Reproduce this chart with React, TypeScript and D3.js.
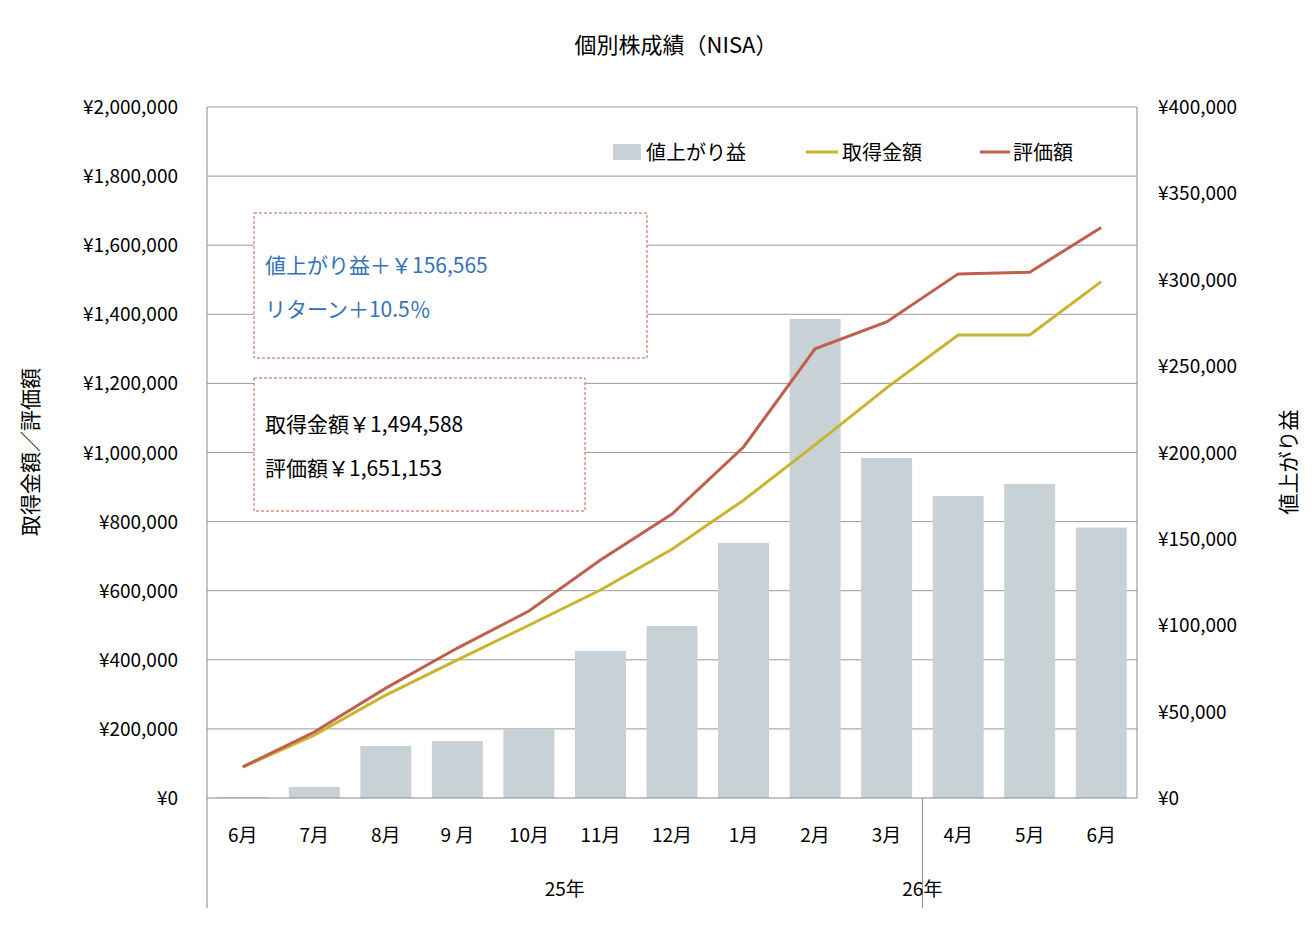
import * as d3 from 'd3';
import React from 'react';

const months = ["6月", "7月", "8月", "9 月", "10月", "11月", "12月", "1月", "2月", "3月", "4月", "5月", "6月"];
const gains = [500, 6400, 30100, 33000, 40000, 85100, 99600, 147600, 277300, 196800, 174800, 181800, 156565];
const cost = [89700, 182000, 298000, 400000, 500000, 602000, 720000, 862000, 1022000, 1187000, 1340000, 1340000, 1494588];
const value = [90000, 191000, 318000, 434000, 541000, 689000, 822000, 1016000, 1300000, 1378000, 1517000, 1522000, 1651153];
const leftTicks = d3.range(0, 2000001, 200000);
const rightTicks = d3.range(0, 400001, 50000);
const years = [{ label: "25年", from: 0, to: 9 }, { label: "26年", from: 10, to: 12 }];

const FONT = '"Noto Sans CJK JP", "Noto Sans", sans-serif';
const yen = (v: number) => "¥" + d3.format(",")(v);

export default function App(): any {
  const width = 1314, height = 936;
  const m = { left: 207, right: 1137, top: 107, bottom: 798 };
  const x = d3.scaleBand<number>().domain(d3.range(months.length)).range([m.left, m.right]).paddingInner(0.28).paddingOuter(0.14);
  const step = (m.right - m.left) / months.length;
  const cx = (i: number) => m.left + step * (i + 0.5);
  const yL = d3.scaleLinear().domain([0, 2000000]).range([m.bottom, m.top]);
  const yR = d3.scaleLinear().domain([0, 400000]).range([m.bottom, m.top]);
  const line = (arr: number[]) => d3.line<number>().x((_, i) => cx(i)).y(d => yL(d))(arr) || "";
  const sep = m.left + step * 10;

  return (
    <svg width={width} height={height} style={{ position: "absolute", left: 0, top: 0, fontFamily: FONT }}>
      <rect width={width} height={height} fill="#fff" />
      <text x={676} y={53} textAnchor="middle" fontSize={22}>個別株成績（NISA）</text>
      {leftTicks.map(t => (
        <g key={t}>
          {t > 0 && <line x1={m.left} x2={m.right} y1={yL(t)} y2={yL(t)} stroke="#9a9a9a" strokeWidth={1} />}
          <text x={178} y={yL(t) + 7} textAnchor="end" fontSize={19}>{yen(t)}</text>
        </g>
      ))}
      {rightTicks.map(t => (
        <text key={t} x={1158} y={yR(t) + 7} fontSize={19}>{yen(t)}</text>
      ))}
      {gains.map((g, i) => (
        <rect key={i} x={cx(i) - 25.5} width={51} y={yR(g)} height={m.bottom - yR(g)} fill="#c8d1d6" />
      ))}
      <line x1={m.left} x2={m.left} y1={m.top} y2={908} stroke="#888" />
      <line x1={m.right} x2={m.right} y1={m.top} y2={m.bottom} stroke="#888" />
      <line x1={m.left} x2={m.right} y1={m.bottom} y2={m.bottom} stroke="#888" />
      <line x1={sep} x2={sep} y1={m.bottom} y2={908} stroke="#888" />
      <path d={line(cost)} fill="none" stroke="#c8b42e" strokeWidth={3} />
      <path d={line(value)} fill="none" stroke="#c0604a" strokeWidth={3} />
      {months.map((mo, i) => (
        <text key={i} x={cx(i)} y={842} textAnchor="middle" fontSize={19}>{mo}</text>
      ))}
      {years.map(yr => (
        <text key={yr.label} x={yr.label === "25年" ? (cx(yr.from) + cx(yr.to)) / 2 : sep} y={896} textAnchor="middle" fontSize={19}>{yr.label}</text>
      ))}
      <rect x={613} y={144} width={28} height={16} fill="#c8d1d6" />
      <text x={646} y={160} fontSize={20}>値上がり益</text>
      <line x1={806} x2={838} y1={152} y2={152} stroke="#c8b42e" strokeWidth={3} />
      <text x={842} y={160} fontSize={20}>取得金額</text>
      <line x1={980} x2={1010} y1={152} y2={152} stroke="#c0604a" strokeWidth={3} />
      <text x={1013} y={160} fontSize={20}>評価額</text>
      <rect x={254} y={213} width={393} height={145} fill="#fff" stroke="#c0604a" strokeDasharray="3,2" />
      <text x={265} y={273} fontSize={21} fill="#3572b8">値上がり益＋￥156,565</text>
      <text x={265} y={317} fontSize={21} fill="#3572b8">リターン＋10.5％</text>
      <rect x={254} y={378} width={331} height={133} fill="#fff" stroke="#c0604a" strokeDasharray="3,2" />
      <text x={265} y={432} fontSize={21}>取得金額￥1,494,588</text>
      <text x={265} y={476} fontSize={21}>評価額￥1,651,153</text>
      <text transform="translate(38,452) rotate(-90)" textAnchor="middle" fontSize={21}>取得金額／評価額</text>
      <text transform="translate(1296,462) rotate(-90)" textAnchor="middle" fontSize={21}>値上がり益</text>
    </svg>
  );
}
